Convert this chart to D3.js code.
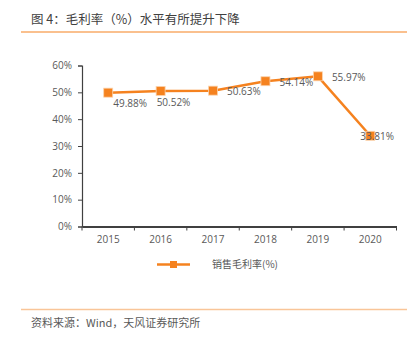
<!DOCTYPE html>
<html>
<head>
<meta charset="utf-8">
<script src="https://cdn.jsdelivr.net/npm/d3@7"></script>
<style>
  body { margin: 0; background: #fff; }
  svg { display: block; font-family: "Noto Sans CJK SC", "Noto Sans", sans-serif; }
</style>
</head>
<body>
<div id="chart"></div>
<script>
var years = ["2015", "2016", "2017", "2018", "2019", "2020"];
var grossMargin = [49.88, 50.52, 50.63, 54.14, 55.97, 33.81];
var yTicks = [0, 10, 20, 30, 40, 50, 60];
var seriesName = "销售毛利率(%)";

// where each value label sits relative to its point
var labelDx = [5, -4, 14, 14, 14, -10];
var labelDy = [11, 12, 1, 1, 1, 1];

var width = 414, height = 337;
var orange = "#f5821f";

var svg = d3.select("#chart").append("svg")
  .attr("width", width)
  .attr("height", height);

// header and footer
svg.append("text")
  .attr("x", 31).attr("y", 23.5)
  .attr("font-size", 12.5)
  .attr("fill", "#404040")
  .text("图 4：毛利率（%）水平有所提升下降");
svg.append("line")
  .attr("x1", 21).attr("x2", 407).attr("y1", 32).attr("y2", 32)
  .attr("stroke", orange).attr("stroke-width", 1.2);
svg.append("line")
  .attr("x1", 21).attr("x2", 407).attr("y1", 309.5).attr("y2", 309.5)
  .attr("stroke", "#f9c598").attr("stroke-width", 1.5);
svg.append("text")
  .attr("x", 31).attr("y", 327)
  .attr("font-size", 11)
  .attr("fill", "#595959")
  .text("资料来源：Wind，天风证券研究所");

var x = d3.scaleBand().domain(years).range([82, 396.5]);
var y = d3.scaleLinear().domain([0, 60]).range([226.5, 65.5]);

// y axis
var yAxis = svg.append("g")
  .attr("transform", "translate(82,0)")
  .call(d3.axisLeft(y).tickValues(yTicks).tickSize(4).tickFormat(d => d + "%"));
yAxis.select(".domain").attr("stroke", "#404040").attr("stroke-width", 1.2);
yAxis.selectAll(".tick line").attr("stroke", "#404040");
yAxis.selectAll(".tick text")
  .attr("x", -10)
  .attr("fill", "#595959")
  .attr("font-size", 10)
  .attr("font-family", "'Open Sans', 'DejaVu Sans', sans-serif");

// x axis, ticks on band edges
var xAxis = svg.append("g")
  .attr("transform", "translate(0,226.5)")
  .call(d3.axisBottom(x).tickSize(0).tickSizeOuter(0));
xAxis.select(".domain").attr("stroke", "#404040").attr("stroke-width", 1.8);
xAxis.selectAll(".tick text")
  .attr("dy", "1.35em")
  .attr("fill", "#595959")
  .attr("font-size", 10)
  .attr("font-family", "'Open Sans', 'DejaVu Sans', sans-serif");
var edges = years.map(d => x(d)).concat([x.range()[1]]);
svg.append("g").selectAll("line")
  .data(edges)
  .join("line")
    .attr("x1", d => d).attr("x2", d => d)
    .attr("y1", 226.5).attr("y2", 230.5)
    .attr("stroke", "#404040");

// series
var pts = years.map((d, i) => ({year: d, v: grossMargin[i], i: i}));
var cx = d => x(d.year) + x.bandwidth() / 2;

svg.append("path")
  .datum(pts)
  .attr("fill", "none")
  .attr("stroke", orange)
  .attr("stroke-width", 2.5)
  .attr("d", d3.line().x(cx).y(d => y(d.v)));

svg.append("g").selectAll("rect")
  .data(pts)
  .join("rect")
    .attr("x", d => cx(d) - 4.5)
    .attr("y", d => y(d.v) - 4.5)
    .attr("width", 9).attr("height", 9)
    .attr("fill", orange)
    .attr("stroke", "#fbd3ad").attr("stroke-width", 0.8);

svg.append("g").selectAll("text")
  .data(pts)
  .join("text")
    .attr("x", d => cx(d) + labelDx[d.i])
    .attr("y", d => y(d.v) + labelDy[d.i])
    .attr("dy", "0.35em")
    .attr("fill", "#595959")
    .attr("font-size", 10)
    .attr("font-family", "'Open Sans', 'DejaVu Sans', sans-serif")
    .text(d => d.v.toFixed(2) + "%");

// legend
var lg = svg.append("g").attr("transform", "translate(157,264.5)");
lg.append("line").attr("x1", 0).attr("x2", 33)
  .attr("stroke", orange).attr("stroke-width", 2.5);
lg.append("rect").attr("x", 13).attr("y", -3.5).attr("width", 7).attr("height", 7)
  .attr("fill", orange);
lg.append("text").attr("x", 55).attr("dy", "0.35em")
  .attr("font-size", 10).attr("fill", "#595959")
  .text(seriesName);
</script>
</body>
</html>
